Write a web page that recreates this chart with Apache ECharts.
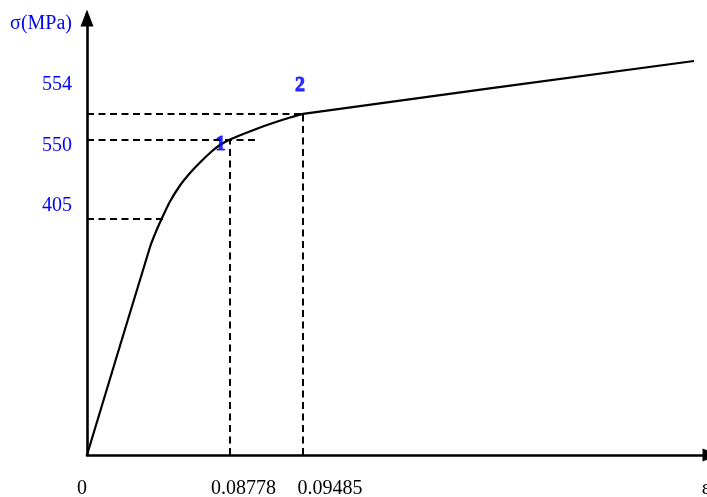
<!DOCTYPE html>
<html>
<head>
<meta charset="utf-8">
<title>σ–ε diagram</title>
<script src="https://cdn.jsdelivr.net/npm/echarts@6/dist/echarts.min.js"></script>
<style>
  html, body { margin: 0; padding: 0; background: #ffffff; }
  #chart { width: 707px; height: 497px; }
</style>
</head>
<body>
<div id="chart"></div>
<script>
// Schematic stress–strain curve. Both axes use relative diagram units (0–100);
// the real strain / stress values are only written as labels.
const curveStrain = [0, 10.10, 11.06, 12.02, 13.30, 14.90, 16.51, 18.11, 19.87, 21.31, 22.92, 24.84, 26.92, 29.33, 31.89, 34.62, 97.28];
const curveStress = [0, 47.60, 51.14, 54.23, 58.01, 61.67, 64.53, 66.93, 69.34, 70.94, 72.20, 73.34, 74.49, 75.74, 76.93, 78.08, 90.16];

// Characteristic points 1 and 2 on the curve
const pointNames = ['1', '2'];
const pointStrain = [22.92, 34.62];
const pointStress = [72.20, 78.08];

// Reference stress levels (dashed horizontals) and how far each one reaches
const levelLabels = ['405', '550', '554'];
const levelStress = [54.17, 72.20, 78.08];
const levelReach = [12.18, 27.24, 34.62];

// Strain labels under the two verticals
const strainLabels = ['0.08778', '0.09485'];

const BLUE = '#0000ff';
const FONT = 'Liberation Serif';
const FS = 20;

const curveData = curveStrain.map((x, i) => [x, curveStress[i]]);

const dashStyle = { color: '#000', width: 2, type: [7, 4.5] };
const guideLines = [];
levelStress.forEach((y, i) => {
  guideLines.push([{ coord: [0, y] }, { coord: [levelReach[i], y] }]);
});
pointStrain.forEach((x, i) => {
  guideLines.push([{ coord: [x, 0] }, { coord: [x, pointStress[i]] }]);
});

// x-axis label texts, keyed by their position on the axis
const xLabelValues = [0, pointStrain[0], pointStrain[1], 100];
const xLabelTexts = ['{o|0}', '{a|' + strainLabels[0] + '}', '{b|' + strainLabels[1] + '}', '{e|ε}'];

const yLabelStyles = ['l0', 'l1', 'l2'];

const pointOffsets = [[-9.5, 5.5], [-3, -28]];

function txt(color, padding) {
  return { fontFamily: FONT, fontSize: FS, color: color, padding: padding };
}

const chart = echarts.init(document.getElementById('chart'), null, { renderer: 'canvas' });
chart.setOption({
  animation: false,
  backgroundColor: '#ffffff',
  grid: { left: 87, right: -4, top: 18, bottom: 42, containLabel: false, outerBoundsMode: 'none' },
  xAxis: {
    type: 'value',
    min: 0,
    max: 100,
    splitLine: { show: false },
    axisTick: { show: false },
    axisLine: {
      show: true,
      onZero: false,
      symbol: ['none', 'triangle'],
      symbolSize: [13, 17],
      lineStyle: { color: '#000', width: 2.6 }
    },
    axisLabel: {
      show: true,
      customValues: xLabelValues,
      margin: 24,
      color: '#000',
      fontFamily: FONT,
      fontSize: FS,
      hideOverlap: false,
      formatter: function (v) {
        const i = xLabelValues.indexOf(v);
        return i >= 0 ? xLabelTexts[i] : '';
      },
      rich: {
        o: txt('#000', [0, 10, 0, 0]),
        a: txt('#000', [0, 0, 0, 27]),
        b: txt('#000', [0, 0, 0, 54]),
        e: txt('#000', [0, 10, 0, 0])
      }
    }
  },
  yAxis: {
    type: 'value',
    min: 0,
    max: 100,
    name: 'σ(MPa)',
    nameLocation: 'end',
    nameGap: -6,
    nameTextStyle: {
      color: BLUE,
      fontFamily: FONT,
      fontSize: FS,
      align: 'right',
      verticalAlign: 'middle',
      padding: [0, 15, 0, 0]
    },
    splitLine: { show: false },
    axisTick: { show: false },
    axisLine: {
      show: true,
      onZero: false,
      symbol: ['none', 'triangle'],
      symbolSize: [13, 17],
      lineStyle: { color: '#000', width: 2.6 }
    },
    axisLabel: {
      show: true,
      customValues: levelStress,
      margin: 15,
      color: BLUE,
      fontFamily: FONT,
      fontSize: FS,
      formatter: function (v) {
        const i = levelStress.indexOf(v);
        return i >= 0 ? '{' + yLabelStyles[i] + '|' + levelLabels[i] + '}' : '';
      },
      rich: {
        l0: txt(BLUE, [0, 0, 26, 0]),
        l1: txt(BLUE, [13, 0, 0, 0]),
        l2: txt(BLUE, [0, 0, 58, 0])
      }
    }
  },
  series: [
    {
      name: 'curve',
      type: 'line',
      data: curveData,
      showSymbol: false,
      smooth: 0.2,
      lineStyle: { color: '#000', width: 2.2 },
      z: 3,
      markLine: {
        silent: true,
        symbol: ['none', 'none'],
        label: { show: false },
        lineStyle: dashStyle,
        emphasis: { disabled: true },
        data: guideLines
      }
    },
    {
      name: 'points',
      type: 'scatter',
      symbolSize: 0,
      z: 5,
      data: pointStrain.map((x, i) => ({
        value: [x, pointStress[i]],
        label: { offset: pointOffsets[i] }
      })),
      label: {
        show: true,
        position: 'inside',
        color: BLUE,
        fontFamily: FONT,
        fontSize: FS,
        fontWeight: 'bold',
        textBorderColor: BLUE,
        textBorderWidth: 0.9,
        formatter: function (p) { return pointNames[p.dataIndex]; }
      }
    }
  ]
});
</script>
</body>
</html>
